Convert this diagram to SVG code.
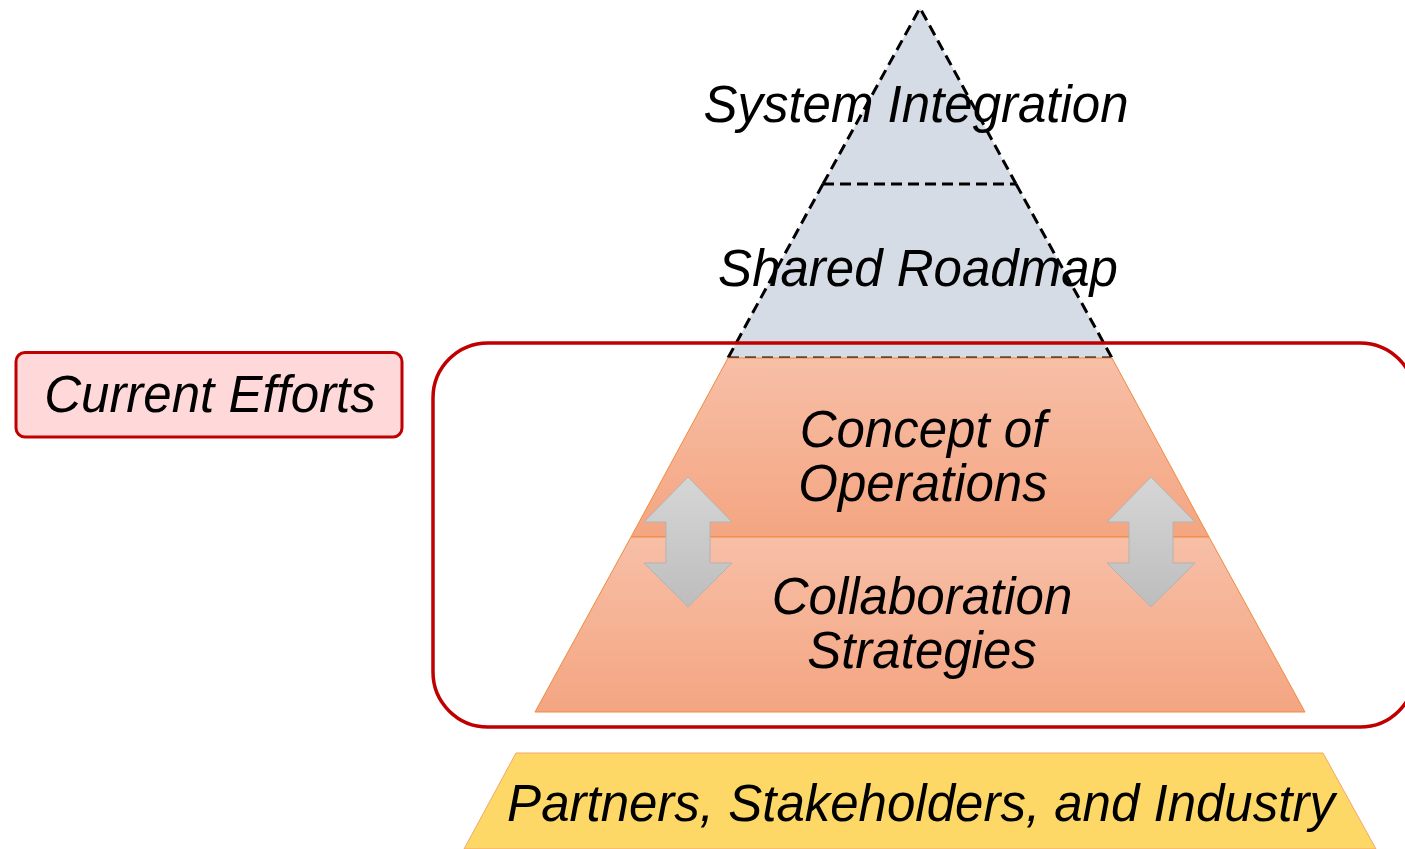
<svg xmlns="http://www.w3.org/2000/svg" width="1405" height="849" viewBox="0 0 1405 849">
  <style>
    .t { font-family: "Liberation Sans", Arial, sans-serif; font-style: italic; font-size: 51px; fill: #000; text-anchor: middle; }
    .dash { fill: none; stroke: #000; stroke-width: 3; stroke-dasharray: 11 6; }
    .orange { stroke: #f08a3c; stroke-width: 1; fill: url(#og); }
    .arrow { fill: url(#ag); stroke: #b3b3b3; stroke-width: 1; }
  </style>
  <defs>
    <linearGradient id="og" x1="0" y1="0" x2="0" y2="1">
      <stop offset="0" stop-color="#f7bfa7"/>
      <stop offset="1" stop-color="#f4a581"/>
    </linearGradient>
    <linearGradient id="ag" x1="0" y1="0" x2="0" y2="1">
      <stop offset="0" stop-color="#d6d6d6"/>
      <stop offset="1" stop-color="#bdbdbd"/>
    </linearGradient>
  </defs>

  <g id="system-integration">
    <polygon points="920,8 1016,184 823,184" fill="#d6dce5"/>
    <path class="dash" d="M823,184 L920,8 L1016,184"/>
    <text class="t" x="916" y="122">System Integration</text>
  </g>

  <g id="shared-roadmap">
    <polygon points="823,184 1016,184 1112,358 728,358" fill="#d6dce5"/>
    <path class="dash" d="M823,184 L728,358 M1016,184 L1112,358 M823,184 L1016,184 M728,358 L1112,358"/>
    <text class="t" x="918" y="286">Shared Roadmap</text>
  </g>

  <g id="concept-of-operations">
    <polygon class="orange" points="728,358 1112,358 1209,537 631,537"/>
  </g>

  <g id="collaboration-strategies">
    <polygon class="orange" points="631,537 1209,537 1305,712 535,712"/>
  </g>

  <g id="connectors">
    <path class="arrow" d="M688,477 L732,522 L710,522 L710,563 L732,563 L688,607 L644,563 L666,563 L666,522 L644,522 Z"/>
    <path class="arrow" d="M1151,477 L1195,522 L1173,522 L1173,563 L1195,563 L1151,607 L1107,563 L1129,563 L1129,522 L1107,522 Z"/>
  </g>

  <g id="labels">
    <text class="t" x="923" y="447">Concept of</text>
    <text class="t" x="923" y="501">Operations</text>
    <text class="t" x="922" y="614">Collaboration</text>
    <text class="t" x="922" y="668">Strategies</text>
  </g>

  <g id="partners">
    <polygon points="516,753 1323,753 1376,849 464,849" fill="#fed866" stroke="#f4a56a" stroke-width="1"/>
    <text class="t" x="921" y="821">Partners, Stakeholders, and Industry</text>
  </g>

  <g id="current-efforts-frame">
    <rect x="433" y="343" width="982" height="384" rx="55" ry="55" fill="none" stroke="#c00000" stroke-width="3.5"/>
  </g>

  <g id="current-efforts">
    <rect x="16" y="352.5" width="386" height="84.5" rx="9" ry="9" fill="#ffd9da" stroke="#c00000" stroke-width="3"/>
    <text class="t" x="210" y="412">Current Efforts</text>
  </g>
</svg>
